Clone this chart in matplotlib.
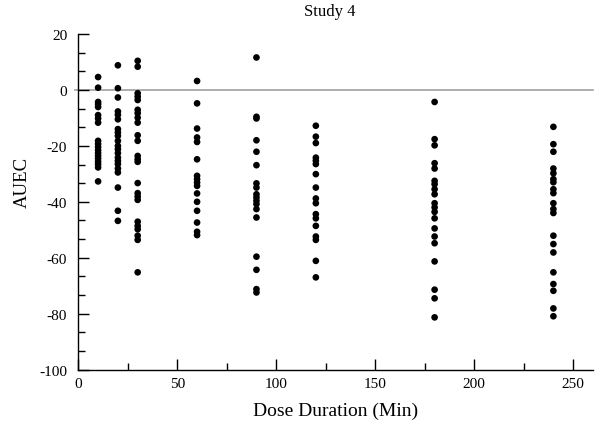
import matplotlib
matplotlib.use("Agg")
import matplotlib.pyplot as plt
from matplotlib.ticker import MultipleLocator, AutoMinorLocator

plt.rcParams['font.family'] = ['Liberation Serif', 'DejaVu Serif']
plt.rcParams['axes.unicode_minus'] = False

# AUEC by dose duration (minutes)
dur_10 = [4.6, 0.8, -4.3, -5.1, -6.1, -9.0, -10.2, -11.7, -18.2, -19.3, -20.4, -21.5,
          -22.5, -23.5, -24.5, -25.6, -26.6, -27.7, -32.7]
dur_20 = [8.8, 0.6, -2.7, -7.7, -8.9, -10.5, -14.0, -15.2, -16.4, -18.2, -20.0, -21.2,
          -22.6, -24.2, -25.4, -26.5, -28.1, -29.5, -34.9, -43.2, -46.8]
dur_30 = [10.4, 8.3, -1.2, -2.4, -3.6, -7.1, -8.3, -9.9, -11.7, -16.2, -18.2, -23.6,
          -24.8, -25.7, -33.3, -36.9, -38.1, -39.3, -47.1, -48.6, -49.8, -52.1, -53.6, -65.2]
dur_60 = [3.2, -4.8, -13.8, -17.0, -18.6, -24.8, -30.7, -31.9, -33.1, -34.3, -37.0,
          -40.0, -43.2, -47.4, -50.7, -51.9]
dur_90 = [11.6, -9.6, -10.2, -18.0, -22.1, -26.9, -33.4, -34.9, -37.3, -38.4, -39.6,
          -40.8, -42.6, -45.6, -59.6, -64.3, -71.2, -72.4]
dur_120 = [-12.8, -16.7, -19.0, -24.2, -25.3, -26.5, -30.1, -34.9, -38.8, -40.5, -44.4,
           -45.9, -48.6, -52.4, -53.6, -61.1, -67.0]
dur_180 = [-4.3, -17.6, -19.8, -26.2, -28.1, -32.5, -33.7, -35.5, -37.3, -40.5, -42.0,
           -43.6, -45.9, -49.5, -52.4, -54.8, -61.3, -71.4, -74.5, -81.3]
dur_240 = [-13.2, -19.4, -22.1, -28.1, -29.8, -31.9, -33.0, -35.5, -36.9, -40.5, -42.6,
           -44.0, -52.1, -55.1, -58.1, -65.2, -69.4, -71.8, -78.1, -80.9]

durations = [10, 20, 30, 60, 90, 120, 180, 240]
groups = [dur_10, dur_20, dur_30, dur_60, dur_90, dur_120, dur_180, dur_240]

fig = plt.figure(figsize=(5.95, 4.27), dpi=100)
ax = fig.add_axes([0.1316, 0.1319, 0.8650, 0.7862])

for d, vals in zip(durations, groups):
    ax.scatter([d] * len(vals), vals, s=23, color='black', edgecolors='none', zorder=3)

# zero reference line
ax.plot([-1.5, 260], [0, 0], color='#a0a0a0', lw=1.2, clip_on=False, zorder=1)

ax.set_xlim(0, 260)
ax.set_ylim(-100, 20)
ax.xaxis.set_major_locator(MultipleLocator(50))
ax.xaxis.set_minor_locator(AutoMinorLocator(2))
ax.yaxis.set_major_locator(MultipleLocator(20))
ax.yaxis.set_minor_locator(AutoMinorLocator(3))

for side in ('top', 'right'):
    ax.spines[side].set_visible(False)
for side in ('left', 'bottom'):
    ax.spines[side].set_linewidth(1.0)

ax.tick_params(axis='both', which='major', direction='in', length=8, width=1.0,
               labelsize=11)
ax.tick_params(axis='both', which='minor', direction='in', length=5, width=1.0)
ax.tick_params(axis='y', which='major', pad=8)
ax.tick_params(axis='x', which='major', pad=5)

ax.set_xlabel('Dose Duration (Min)', fontsize=14, labelpad=9)
ax.set_ylabel('AUEC', fontsize=13.5)
ax.yaxis.set_label_coords(-0.092, 0.56)

fig.text(330 / 595, 1 - 12 / 427, 'Study 4', ha='center', va='center', fontsize=12)

fig.savefig('out.png', dpi=100)
